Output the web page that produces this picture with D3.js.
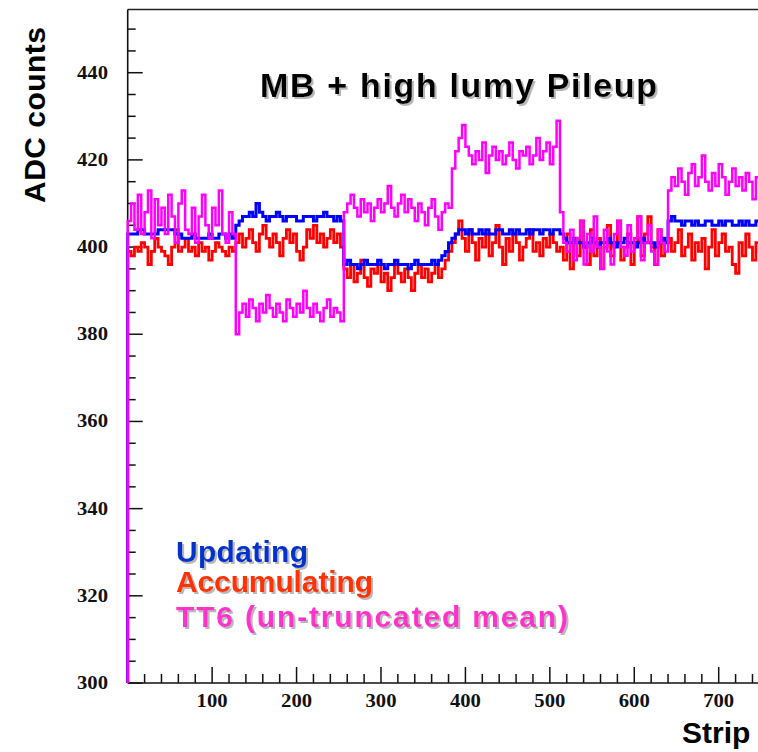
<!DOCTYPE html>
<html><head><meta charset="utf-8">
<script src="https://cdn.jsdelivr.net/npm/d3@7"></script>
<style>body{margin:0;background:#fff}svg{display:block}</style>
</head><body>
<svg id="c" width="758" height="752"></svg>
<script>
// ---- data (bins of 4 strips, 0..767) ----
const binWidth = 4;
const updating = [
403,403,403,404,404,403,403,403,403,404,404,404,404,404,403,403,402,402,402,403,402,402,402,402,403,402,402,403,403,402,403,402,
405,406,407,407,408,407,410,408,407,406,407,407,408,407,406,407,407,407,406,406,407,407,407,406,407,407,408,407,407,406,407,406,
396,397,396,396,395,396,397,396,396,396,397,396,395,396,396,397,396,396,396,395,396,397,396,396,396,396,397,396,397,398,399,401,
402,403,404,404,403,404,403,403,404,403,404,403,403,404,404,403,403,404,403,404,403,403,404,403,404,404,403,404,404,403,404,404,
403,402,401,401,402,401,401,400,401,402,401,400,401,401,402,401,400,401,401,402,401,401,400,401,402,401,401,401,400,401,402,401,
406,407,406,406,405,406,406,405,406,405,405,406,406,405,405,406,405,406,406,405,405,406,405,406,405,405,406,406,405,406,405,406];
const accumulating = [
399,398,400,399,401,400,396,399,402,400,399,398,396,400,404,399,400,402,399,400,398,401,399,400,397,399,401,400,399,398,400,399,
401,403,400,402,404,401,399,403,405,402,400,403,401,398,402,404,401,403,399,397,400,404,402,405,401,403,400,402,404,401,403,400,
395,393,396,392,394,397,393,391,395,394,396,392,394,390,393,396,394,392,395,393,390,394,396,393,395,392,394,396,393,395,397,399,
401,403,406,402,399,404,401,397,402,400,403,398,401,405,400,396,402,399,403,401,397,400,402,404,399,401,398,402,400,403,401,399,
400,397,403,395,402,398,406,400,396,404,398,402,395,400,405,398,401,406,397,400,403,396,401,407,398,403,407,400,396,404,398,401,
402,399,401,404,398,400,403,397,401,399,402,395,400,404,398,401,403,399,400,396,394,401,398,403,400,397,401,399,402,400,398,401];
const tt6 = [
406,410,404,412,403,408,413,402,411,405,409,403,412,407,401,410,413,404,403,409,401,407,412,405,402,409,405,413,403,401,408,403,
380,385,387,384,388,386,383,387,385,389,386,384,387,385,383,388,386,384,387,385,390,386,384,387,385,383,386,388,384,386,385,383,
408,410,412,409,407,411,408,410,406,409,411,408,410,414,409,407,410,412,408,411,409,406,410,408,405,409,411,407,404,408,410,409,
418,422,425,428,423,421,419,422,420,424,417,421,423,420,422,419,421,424,420,418,422,421,423,419,421,425,420,422,424,419,423,429,
408,401,399,404,397,402,406,396,403,399,407,400,395,404,399,396,403,406,400,398,405,399,402,407,397,401,405,399,396,404,401,399,
413,416,414,418,415,412,417,419,414,416,421,415,413,417,414,419,416,412,415,418,414,416,413,417,415,411,416,414,418,413,415,414];
const yMajorTicks = [300,320,340,360,380,400,420,440];
const xMajorTicks = [100,200,300,400,500,600,700];
const seriesNames = ["Updating","Accumulating","TT6 (un-truncated mean)"];
const titleText = "MB + high lumy Pileup";

// ---- layout ----
const svg = d3.select("#c");
const defs = svg.append("defs");
const f = defs.append("filter").attr("id","shadow").attr("x","-5%").attr("y","-20%").attr("width","115%").attr("height","150%");
f.append("feDropShadow").attr("dx",2).attr("dy",2).attr("stdDeviation",0.6)
  .attr("flood-color","#9a9a9a").attr("flood-opacity",0.7);

const x = d3.scaleLinear().domain([0,768]).range([127.7, 127.7 + 768*0.8443]);
const y = d3.scaleLinear().domain([300,454.5]).range([683, 9.5]);

// frame top
svg.append("line").attr("x1",x(0)).attr("x2",758).attr("y1",y(454.5)).attr("y2",y(454.5))
  .attr("stroke","#222").attr("stroke-width",1.6);

// y axis
svg.append("line").attr("x1",x(0)).attr("x2",x(0)).attr("y1",y(300)).attr("y2",y(454.5))
  .attr("stroke","#111").attr("stroke-width",1.6);
const yMinor = d3.range(300,454.5,5);
svg.append("g").selectAll("line").data(yMinor).join("line")
  .attr("x1",x(0)).attr("x2",d=> x(0) + (d%20===0?15:8))
  .attr("y1",d=>y(d)).attr("y2",d=>y(d)).attr("stroke","#111").attr("stroke-width",1.5);
svg.append("g").selectAll("text").data(yMajorTicks).join("text")
  .attr("x",108).attr("y",d=>y(d)+6).attr("text-anchor","end")
  .attr("font-family","Liberation Serif, Times New Roman, serif").attr("font-weight","bold")
  .attr("font-size",18).attr("textLength",31).attr("lengthAdjust","spacingAndGlyphs")
  .attr("fill","#111").text(d=>d);

// x axis
svg.append("line").attr("x1",x(0)).attr("x2",758).attr("y1",y(300)).attr("y2",y(300))
  .attr("stroke","#111").attr("stroke-width",1.6);
const xMinor = d3.range(20,768,20);
svg.append("g").selectAll("line").data(xMinor).join("line")
  .attr("x1",d=>x(d)).attr("x2",d=>x(d))
  .attr("y1",y(300)).attr("y2",d=> y(300) - (d%100===0?16:9)).attr("stroke","#111").attr("stroke-width",1.5);
svg.append("g").selectAll("text").data(xMajorTicks).join("text")
  .attr("x",d=>x(d)).attr("y",707).attr("text-anchor","middle")
  .attr("font-family","Liberation Serif, Times New Roman, serif").attr("font-weight","bold")
  .attr("font-size",18).attr("textLength",31).attr("lengthAdjust","spacingAndGlyphs")
  .attr("fill","#111").text(d=>d);

// series as step histograms
function stepPts(vals){
  const pts = [[0,300]];
  vals.forEach((v,i)=>pts.push([i*binWidth, v]));
  pts.push([vals.length*binWidth, vals[vals.length-1]]);
  pts.push([vals.length*binWidth, 300]);
  return pts;
}
const line = d3.line().x(d=>x(d[0])).y(d=>y(d[1])).curve(d3.curveStepAfter);
const series = [
  {vals: accumulating, color:"#ff0000", w:2.8},
  {vals: updating, color:"#0000ff", w:3},
  {vals: tt6, color:"#ff00ff", w:2.5}
];
series.forEach(s=>{
  svg.append("path").attr("d", line(stepPts(s.vals))).attr("fill","none")
    .attr("stroke", s.color).attr("stroke-width", s.w);
});

// texts with drop shadow
function shadowText(t, tx, ty, size, color, len){
  const el = svg.append("text").attr("x",tx).attr("y",ty)
    .attr("font-family","Liberation Sans, Arial, Helvetica, sans-serif").attr("font-weight","bold")
    .attr("font-size",size).attr("fill",color).attr("filter","url(#shadow)").text(t);
  if(len) el.attr("textLength",len).attr("lengthAdjust","spacing");
  return el;
}
shadowText(titleText, 260, 97, 34, "#000", 397);
const legendColors = ["#0033cc","#ff3300","#ff33cc"];
const legendY = [562, 592, 627];
const legendLen = [132, 197, 392];
seriesNames.forEach((n,i)=> shadowText(n, 176, legendY[i], 30, legendColors[i], legendLen[i]));

// axis titles
svg.append("text").attr("transform","translate(45,115) rotate(-90)").attr("text-anchor","middle")
  .attr("font-family","Liberation Sans, Arial, Helvetica, sans-serif").attr("font-weight","bold")
  .attr("font-size",30).attr("textLength",176).attr("lengthAdjust","spacing").attr("fill","#000").text("ADC counts");
svg.append("text").attr("x",682).attr("y",743)
  .attr("font-family","Liberation Sans, Arial, Helvetica, sans-serif").attr("font-weight","bold")
  .attr("font-size",30).attr("fill","#000").text("Strip");
</script>
</body></html>
